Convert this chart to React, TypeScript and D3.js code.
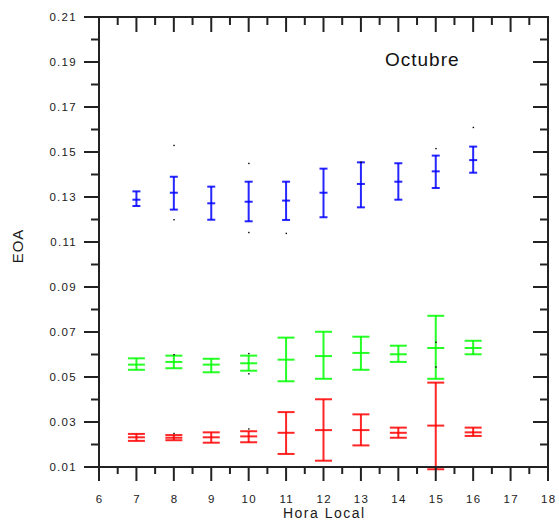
import React from "react";
import * as d3 from "d3";

const hours = [7, 8, 9, 10, 11, 12, 13, 14, 15, 16];

const blueMean = [0.1288, 0.1319, 0.1272, 0.1279, 0.1284, 0.1319, 0.1358, 0.1368, 0.1414, 0.1464];
const blueHigh = [0.1325, 0.139, 0.1346, 0.1368, 0.1368, 0.1426, 0.1454, 0.145, 0.1484, 0.1524];
const blueLow = [0.126, 0.1244, 0.1199, 0.1192, 0.1198, 0.121, 0.1254, 0.1288, 0.134, 0.1408];

const greenMean = [0.0555, 0.0567, 0.0555, 0.0561, 0.0577, 0.0593, 0.0607, 0.0601, 0.0629, 0.0629];
const greenHigh = [0.0583, 0.0595, 0.0581, 0.0595, 0.0675, 0.0701, 0.0679, 0.0639, 0.0772, 0.0661];
const greenLow = [0.0532, 0.0539, 0.0521, 0.0528, 0.0481, 0.0492, 0.0532, 0.0567, 0.0492, 0.0601];

const redMean = [0.0232, 0.023, 0.0232, 0.0236, 0.0252, 0.0264, 0.0264, 0.0252, 0.0284, 0.0254];
const redHigh = [0.0247, 0.0242, 0.0254, 0.0259, 0.0344, 0.0401, 0.0334, 0.0275, 0.0475, 0.0275];
const redLow = [0.0216, 0.0219, 0.0208, 0.021, 0.0158, 0.0128, 0.0196, 0.023, 0.009, 0.0238];

const dotHours = [8, 8, 10, 10, 11, 15, 16, 13, 8, 10, 10, 8, 10, 15, 15];
const dotValues = [0.153, 0.12, 0.145, 0.1143, 0.1139, 0.1516, 0.161, 0.1456, 0.06, 0.0605, 0.0515, 0.025, 0.027, 0.0655, 0.0545];

const yMajor = [0.01, 0.03, 0.05, 0.07, 0.09, 0.11, 0.13, 0.15, 0.17, 0.19, 0.21];
const yMinor = [0.02, 0.04, 0.06, 0.08, 0.1, 0.12, 0.14, 0.16, 0.18, 0.2];
const xMajor = [6, 7, 8, 9, 10, 11, 12, 13, 14, 15, 16, 17, 18];
const xMinor = [6.5, 7.5, 8.5, 9.5, 10.5, 11.5, 12.5, 13.5, 14.5, 15.5, 16.5, 17.5];

const W = 559;
const H = 524;
const left = 99;
const right = 548;
const top = 17;
const bottom = 467;

const x = d3.scaleLinear().domain([6, 18]).range([left, right]);
const y = d3.scaleLinear().domain([0.01, 0.21]).range([bottom, top]);

const axisColor = "#222";
const textColor = "#1a1a1a";

type Series = { color: string; mean: number[]; high: number[]; low: number[]; cap: number };
const series: Series[] = [
  { color: "#0000ff", mean: blueMean, high: blueHigh, low: blueLow, cap: 8 },
  { color: "#00ff00", mean: greenMean, high: greenHigh, low: greenLow, cap: 17 },
  { color: "#ff0000", mean: redMean, high: redHigh, low: redLow, cap: 17 },
];

export default function App() {
  const major = 15;
  const minor = 8;
  return (
    <svg width={W} height={H} style={{ position: "absolute", left: 0, top: 0, background: "#fff" }}
      fontFamily="'Liberation Sans', Arial, sans-serif">
      {series.map((s, si) => (
        <g key={si} stroke={s.color} strokeWidth={2} strokeOpacity={0.85}>
          {hours.map((h, i) => {
            const cx = x(h);
            const hw = s.cap / 2;
            return (
              <g key={i}>
                <line x1={cx} x2={cx} y1={y(s.high[i])} y2={y(s.low[i])} />
                <line x1={cx - hw} x2={cx + hw} y1={y(s.high[i])} y2={y(s.high[i])} />
                <line x1={cx - hw} x2={cx + hw} y1={y(s.low[i])} y2={y(s.low[i])} />
                <line x1={cx - hw} x2={cx + hw} y1={y(s.mean[i])} y2={y(s.mean[i])} />
              </g>
            );
          })}
        </g>
      ))}
      {dotHours.map((h, i) => (
        <rect key={i} x={x(h) - 0.5} y={y(dotValues[i]) - 0.5} width={1.4} height={1.4} fill="#000" />
      ))}
      <g stroke={axisColor} strokeWidth={2} fill="none">
        <line x1={left} x2={left} y1={top - 1} y2={bottom + 1} />
        <line x1={right} x2={right} y1={top - 1} y2={bottom + 1} />
        <line x1={left - 1} x2={right + 1} y1={top} y2={top} />
        <line x1={left - 1} x2={right + 1} y1={bottom} y2={bottom} />
        {yMajor.map((v) => (
          <g key={"ym" + v}>
            <line x1={left - major} x2={left} y1={y(v)} y2={y(v)} />
            <line x1={right - major} x2={right} y1={y(v)} y2={y(v)} />
          </g>
        ))}
        {yMinor.map((v) => (
          <g key={"yn" + v}>
            <line x1={left - minor} x2={left} y1={y(v)} y2={y(v)} />
            <line x1={right - minor} x2={right} y1={y(v)} y2={y(v)} />
          </g>
        ))}
        {xMajor.map((v) => (
          <g key={"xm" + v}>
            <line x1={x(v)} x2={x(v)} y1={bottom} y2={bottom + 14} />
            <line x1={x(v)} x2={x(v)} y1={top} y2={top + major} />
          </g>
        ))}
        {xMinor.map((v) => (
          <g key={"xn" + v}>
            <line x1={x(v)} x2={x(v)} y1={bottom} y2={bottom + 7} />
            <line x1={x(v)} x2={x(v)} y1={top} y2={top + minor} />
          </g>
        ))}
      </g>
      <g fill={textColor} fontSize={11.5} letterSpacing={1.3}>
        {yMajor.map((v) => (
          <text key={"yl" + v} x={77} y={y(v) + 4} textAnchor="end">
            {d3.format(".2f")(v)}
          </text>
        ))}
        {xMajor.map((v) => (
          <text key={"xl" + v} x={x(v) + 0.65} y={503} textAnchor="middle">
            {v}
          </text>
        ))}
      </g>
      <text x={(left + right) / 2 + 0.75} y={518} textAnchor="middle" fontSize={14} letterSpacing={1.5} fill={textColor}>
        Hora Local
      </text>
      <text transform={`translate(23,${(top + bottom) / 2 + 4}) rotate(-90)`} textAnchor="middle" fontSize={15}
        letterSpacing={1} fill={textColor}>
        EOA
      </text>
      <text x={385} y={66} fontSize={19} letterSpacing={1} fill="#111">
        Octubre
      </text>
    </svg>
  );
}
